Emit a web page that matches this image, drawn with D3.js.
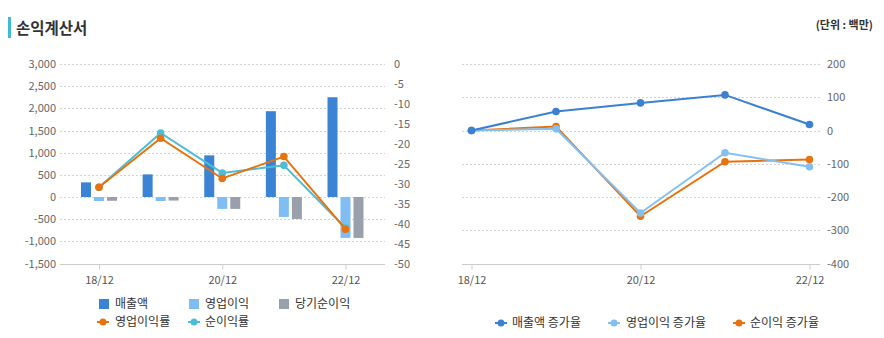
<!DOCTYPE html>
<html><head><meta charset="utf-8">
<script src="https://cdn.jsdelivr.net/npm/d3@7"></script>
<style>
body{margin:0;background:#fff;}
svg{display:block;font-family:"Noto Sans CJK KR","Noto Sans",sans-serif;}
</style></head>
<body><svg id="c" width="884" height="338"></svg>
<script>
const categories = ["18/12","19/12","20/12","21/12","22/12"];
const tickLabels = ["18/12","20/12","22/12"];
const sales = [330, 510, 940, 1935, 2250];
const opIncome = [-90, -90, -268, -450, -923];
const netIncome = [-85, -80, -268, -495, -923];
const opMargin = [-30.9, -18.6, -28.7, -23.2, -41.4];
const netMargin = [-30.9, -17.3, -27.3, -25.4, -41.1];
const leftTicks = [3000,2500,2000,1500,1000,500,0,-500,-1000,-1500];
const rightTicks = [0,-5,-10,-15,-20,-25,-30,-35,-40,-45,-50];
const salesGrowth = [0, 57, 83, 107, 18];
const opGrowth = [0, 5, -248, -67, -109];
const netGrowth = [0, 12, -258, -94, -87];
const growthTicks = [200,100,0,-100,-200,-300,-400];

const svg = d3.select("#c");
const fmtC = d3.format(",");
const fmt = d => fmtC(d).replace("\u2212","-");
const fmtP = d => String(d);
const C = {sales:"#3a83d5", op:"#7fbdf3", net:"#9a9fac", opM:"#e8720d", netM:"#4dbdd6",
  sg:"#3b80d2", og:"#83c0f2", ng:"#e8720d"};

// title
svg.append("rect").attr("x",8).attr("y",17).attr("width",3).attr("height",21).attr("fill","#3fbad6");
svg.append("text").attr("x",16).attr("y",34).attr("font-size",15.5).attr("font-weight",700).attr("fill","#333").text("손익계산서");
svg.append("text").attr("x",873).attr("y",29).attr("text-anchor","end").attr("font-size",11).attr("font-weight",600).attr("fill","#333").text("(단위 : 백만)");

function grid(g, ticks, y, x0, x1, last){
  ticks.forEach(t=>{
    if(t===last) return;
    g.append("line").attr("x1",x0).attr("x2",x1).attr("y1",Math.round(y(t))+0.5).attr("y2",Math.round(y(t))+0.5)
      .attr("stroke","#d4d4d4").attr("stroke-dasharray","2,2");
  });
  g.append("line").attr("x1",x0).attr("x2",x1).attr("y1",Math.round(y(last))+0.5).attr("y2",Math.round(y(last))+0.5).attr("stroke","#ccc");
}
function styleAxis(g){
  g.select(".domain").remove();
  g.selectAll("text").attr("font-size",11).attr("fill","#666").attr("font-family","'Noto Sans CJK KR',sans-serif");
}

// LEFT chart
const gL = svg.append("g");
const yL = d3.scaleLinear().domain([-1500,3000]).range([263.5,64]);
const yR = d3.scaleLinear().domain([-50,0]).range([263.5,64]);
const xL = d3.scalePoint().domain(categories).range([99,345.5]);
grid(gL, leftTicks, yL, 60, 385, -1500);

gL.append("g").attr("transform","translate(56,0)")
  .call(d3.axisLeft(yL).tickValues(leftTicks).tickFormat(fmt).tickSize(0).tickPadding(0)).call(styleAxis);
gL.append("g").attr("transform","translate(394,0)")
  .call(d3.axisRight(yR).tickValues(rightTicks).tickFormat(fmtP).tickSize(0).tickPadding(0)).call(styleAxis);
gL.append("g").attr("transform",`translate(0,${Math.round(yL(-1500))+0.5})`)
  .call(d3.axisBottom(xL).tickValues(tickLabels).tickSize(5).tickPadding(7)).call(g=>{styleAxis(g);
  g.selectAll("line").attr("stroke","#ccc"); g.selectAll("text").attr("fill","#555");});

const barSeries = [[sales,C.sales,-18],[opIncome,C.op,-5],[netIncome,C.net,8]];
barSeries.forEach(([vals,col,off])=>{
  gL.selectAll(null).data(vals).enter().append("rect")
    .attr("x",(d,i)=>xL(categories[i])+off).attr("width",10)
    .attr("y",d=>Math.min(yL(d),yL(0))).attr("height",d=>Math.abs(yL(d)-yL(0)))
    .attr("fill",col);
});
function lineSeries(g, vals, x, y, col){
  const pts = vals.map((v,i)=>[x(categories[i]), y(v)]);
  g.append("path").attr("d",d3.line()(pts)).attr("fill","none").attr("stroke",col).attr("stroke-width",2);
  g.selectAll(null).data(pts).enter().append("circle").attr("cx",d=>d[0]).attr("cy",d=>d[1]).attr("r",3.8).attr("fill",col);
}
lineSeries(gL, netMargin, xL, yR, C.netM);
lineSeries(gL, opMargin, xL, yR, C.opM);

// left legend
function legSquare(x,y,col,label){
  svg.append("rect").attr("x",x).attr("y",y-5).attr("width",10).attr("height",10).attr("fill",col);
  svg.append("text").attr("x",x+16).attr("y",y+4).attr("font-size",12).attr("fill","#333").text(label);
}
function legLine(x,y,col,label,tx){
  svg.append("line").attr("x1",x).attr("x2",x+12).attr("y1",y).attr("y2",y).attr("stroke",col).attr("stroke-width",2);
  svg.append("circle").attr("cx",x+6).attr("cy",y).attr("r",3.5).attr("fill",col);
  svg.append("text").attr("x",tx).attr("y",y+4).attr("font-size",12).attr("fill","#333").text(label);
}
legSquare(99,304,C.sales,"매출액");
legSquare(189,304,C.op,"영업이익");
legSquare(279,304,C.net,"당기순이익");
legLine(97,322,C.opM,"영업이익률",115);
legLine(188,322,C.netM,"순이익률",205);

// RIGHT chart
const gR = svg.append("g");
const yG = d3.scaleLinear().domain([-400,200]).range([263.5,64]);
const xR = d3.scalePoint().domain(categories).range([471.5,809.5]);
grid(gR, growthTicks, yG, 462, 820, -400);
gR.append("g").attr("transform","translate(827,0)")
  .call(d3.axisRight(yG).tickValues(growthTicks).tickFormat(fmtP).tickSize(0).tickPadding(0)).call(styleAxis);
gR.append("g").attr("transform",`translate(0,${Math.round(yG(-400))+0.5})`)
  .call(d3.axisBottom(xR).tickValues(tickLabels).tickSize(5).tickPadding(7)).call(g=>{styleAxis(g);
  g.selectAll("line").attr("stroke","#ccc"); g.selectAll("text").attr("fill","#555");});
lineSeries(gR, netGrowth, xR, yG, C.ng);
lineSeries(gR, opGrowth, xR, yG, C.og);
lineSeries(gR, salesGrowth, xR, yG, C.sg);

legLine(495,323,C.sg,"매출액 증가율",512);
legLine(608,323,C.og,"영업이익 증가율",626);
legLine(733,323,C.ng,"순이익 증가율",750);
</script></body></html>
